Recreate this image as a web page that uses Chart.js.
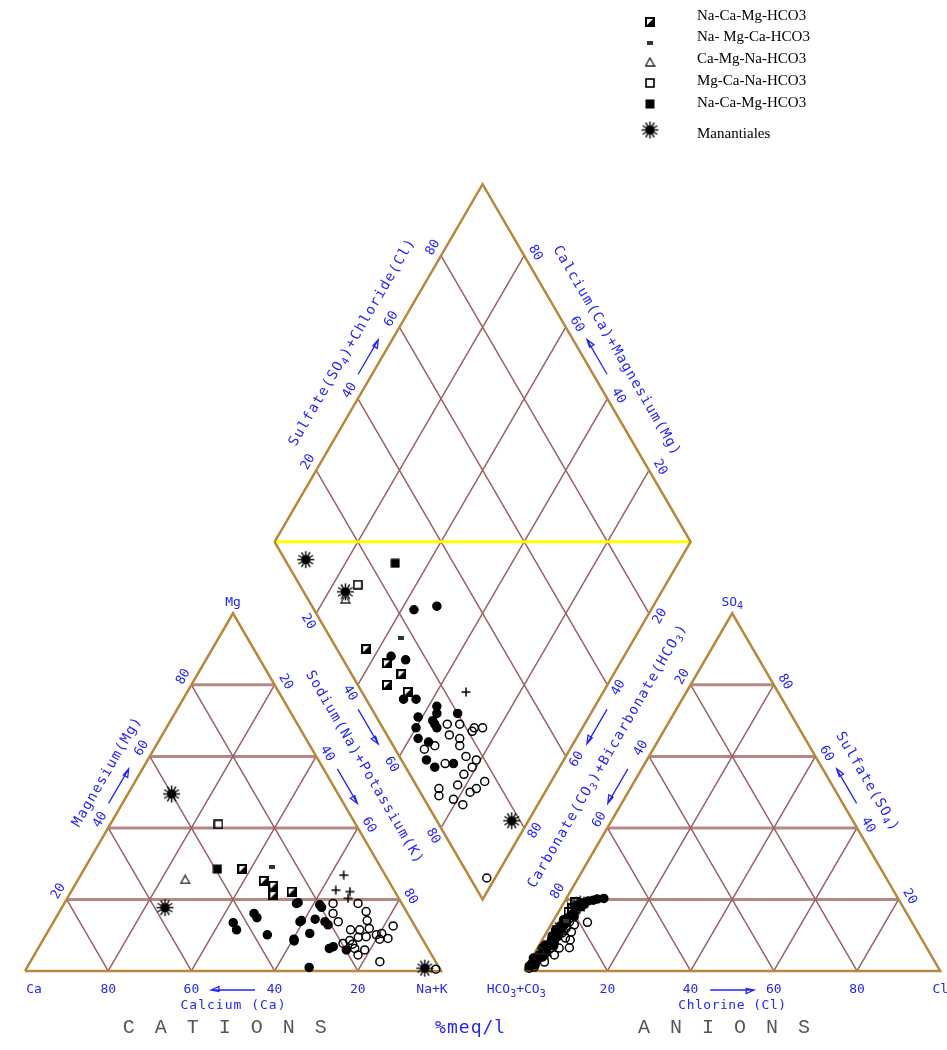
<!DOCTYPE html>
<html>
<head>
<meta charset="utf-8">
<title>Diagrama de Piper</title>
<script src="https://cdn.jsdelivr.net/npm/chart.js@4.4.1/dist/chart.umd.min.js"></script>
<style>
  html, body { margin: 0; padding: 0; background: #ffffff; }
  #wrap { width: 947px; height: 1050px; }
</style>
</head>
<body>
<div id="wrap"><canvas id="piper" width="947" height="1050"></canvas></div>
<script>
// ---- Data (% meq/l) ----
// Cations: [Ca, Mg]  (Na+K = 100 - Ca - Mg)
const catFilled = [[43.2, 13.5], [43.4, 11.5], [36.9, 16.1], [36.8, 14.9], [36.7, 10.1], [25.3, 18.9], [31.1, 8.4],
  [27, 13.8], [24.8, 19.1], [26.5, 14.1], [30.9, 8.9], [26.3, 10.5], [23, 14.5], [19.8, 17.8], [21, 13.8],
  [20.7, 12.9], [23.7, 6.3], [22.5, 6.8], [31.2, 1], [19.8, 5.9], [19.9, 18.5]];
const catOpen = [[16.5, 18.9], [17.9, 16.1], [17.8, 13.8], [10.5, 18.9], [9.7, 16.6], [10.7, 14.1], [16, 11.5],
  [13.8, 11.5], [11.3, 11.9], [15.2, 9.4], [13.2, 9.6], [10.5, 10.1], [9, 10.5], [5.2, 12.6], [8.2, 9.1],
  [10.3, 8.9], [17.7, 8.5], [19.7, 7.7], [17.6, 6.3], [15.4, 5.9], [17.7, 4.5], [13.4, 2.6], [17.5, 7.5], [1, 0.5]];
const catHalfSquare = [[33.5, 28.5], [30, 25.2], [28.4, 23.8], [29.7, 21.2], [24.8, 22.2]];
const catDash = [[26, 29.2]];
const catTriangle = [[48.7, 25.6]];
const catOpenSquare = [[33, 41]];
const catFilledSquare = [[39.5, 28.5]];
const catStar = [[40, 49.5], [57.5, 17.7], [3.5, 0.8]];
const catCross = [[10, 26.8], [14, 22.6], [10.8, 22.2], [12.2, 20.3]];

// Diamond: [Na+K, SO4+Cl]
const diaFilled = [[43, 24], [48, 30], [44, 12], [48, 15], [53, 9], [56, 12], [62, 16], [63, 15], [68, 20],
  [59, 10], [63, 13], [64, 13], [65, 13], [60, 8], [62, 7], [67, 6], [70, 7], [74, 12], [65, 9]];
const diaOpen = [[67, 16], [70, 19], [74, 22], [76, 24], [74, 21], [72, 17], [73, 16], [69, 15], [67, 10],
  [65, 7], [76, 16], [79, 18], [72, 10], [78, 13], [79, 16], [78, 10], [82, 12], [83, 14], [84, 17],
  [74, 5], [75, 4], [79, 7], [82, 8.5], [98, 4]];
const diaHalfSquare = [[37, 7], [44, 10], [49, 12], [47, 7], [53, 11]];
const diaDash = [[44, 17]];
const diaTriangle = [[25, 9]];
const diaOpenSquare = [[26, 14]];
const diaFilledSquare = [[32, 26]];
const diaStar = [[10, 5], [24, 10], [96, 18]];
const diaCross = [[67, 25]];

// Anions: [Cl, SO4]  (HCO3+CO3 = 100 - Cl - SO4)
const aniFilled = [[9, 20.3], [0.5, 1.4], [0.8, 2.2], [1.8, 1.7], [1.6, 3.1], [0.4, 3.6], [1.4, 4.5], [2.4, 3.9],
  [2.3, 6.4], [2.3, 7.5], [1.4, 7.3], [2.2, 8.7], [3.2, 8.1], [1.8, 9.8], [3.2, 9.5], [2.3, 10.9], [2.4, 12.6],
  [3.2, 12.9], [2.3, 14.3], [2.9, 14.8], [3.5, 15.7], [3.9, 16.2], [5.6, 19.6], [6.7, 19.8], [7.5, 20.1],
  [1.2, 6.5], [2.8, 5.2], [3.6, 7], [1.8, 11.5], [3.4, 13.5], [4.4, 15.2], [4.8, 18], [1.1, 2.8], [2.9, 11.5]];
const aniOpen = [[3.8, 10.6], [4.1, 12], [4, 13.7], [5.3, 9.2], [6.7, 8.7], [5.2, 6.4], [5, 4.5], [3.6, 2.5],
  [5.6, 12.9], [5.9, 10.9], [8.4, 13.6], [7.6, 6.5], [1.9, 1.1], [0.8, 0.8]];
const aniHalfSquare = [[2.4, 16.5], [2.7, 17.6], [2.6, 19.3]];
const aniDash = [[3, 14]];
const aniTriangle = [[0.9, 5.9]];
const aniOpenSquare = [[3.6, 18.2]];
const aniFilledSquare = [[4.9, 19]];
const aniStar = [[2.2, 5.3], [2.7, 11.5], [4.1, 18.7]];
const aniCross = [[4.7, 17.1]];

const legendLabels = ["Na-Ca-Mg-HCO3", "Na- Mg-Ca-HCO3", "Ca-Mg-Na-HCO3", "Mg-Ca-Na-HCO3", "Na-Ca-Mg-HCO3", "Manantiales"];
const gridSteps = [20, 40, 60, 80];

// ---- Piper geometry (triangle side = 100, gap = 20) ----
const H = Math.sqrt(3) / 2;
function cat(ca, mg) { return { x: (100 - ca - mg) + mg / 2, y: mg * H }; }
function ani(cl, so4) { return { x: 120 + cl + so4 / 2, y: so4 * H }; }
function dia(nak, so4cl) {
  const c = (100 - nak) / 100, s = so4cl / 100;
  return { x: 110 - 50 * c + 50 * s, y: 20 * H + 100 * H * (c + s) };
}
const BREAK = { x: null, y: null };
function segments(pairs) {
  const out = [];
  pairs.forEach(([p, q]) => out.push(p, q, BREAK));
  return out;
}

const flatGrid = [], slantGrid = [];
gridSteps.forEach((k) => {
  flatGrid.push([cat(100 - k, k), cat(0, k)], [ani(0, k), ani(100 - k, k)]);
  slantGrid.push(
    [cat(k, 0), cat(k, 100 - k)], [cat(100 - k, 0), cat(0, 100 - k)],
    [ani(k, 0), ani(k, 100 - k)], [ani(100 - k, 0), ani(0, 100 - k)],
    [dia(k, 0), dia(k, 100)], [dia(0, k), dia(100, k)]
  );
});
const outlineData = [
  cat(100, 0), cat(0, 0), cat(0, 100), cat(100, 0), BREAK,
  ani(0, 0), ani(100, 0), ani(0, 100), ani(0, 0), BREAK,
  dia(0, 0), dia(0, 100), dia(100, 100), dia(100, 0), dia(0, 0)
];

// ---- marker images ----
function marker(w, h, draw) {
  const c = document.createElement("canvas");
  c.width = w; c.height = h;
  draw(c.getContext("2d"));
  return c;
}
const mHalfSquare = marker(10, 10, (g) => {
  g.fillStyle = "#000";
  g.beginPath(); g.moveTo(10, 0); g.lineTo(10, 10); g.lineTo(0, 10); g.closePath(); g.fill();
  g.strokeStyle = "#000"; g.lineWidth = 2; g.strokeRect(1, 1, 8, 8);
});
const mDash = marker(6, 4, (g) => { g.fillStyle = "#333"; g.fillRect(0, 0, 6, 4); });
const mTriangle = marker(11, 10, (g) => {
  g.strokeStyle = "#222"; g.lineWidth = 1.3;
  g.beginPath(); g.moveTo(5.5, 1); g.lineTo(10, 9); g.lineTo(1, 9); g.closePath(); g.stroke();
});
const mOpenSquare = marker(10, 10, (g) => { g.strokeStyle = "#000"; g.lineWidth = 1.6; g.strokeRect(1, 1, 8, 8); });
const mFilledSquare = marker(10, 10, (g) => { g.fillStyle = "#000"; g.fillRect(0.5, 0.5, 9, 9); });
const mStar = marker(19, 19, (g) => {
  g.translate(9.5, 9.5);
  g.fillStyle = "#000"; g.strokeStyle = "#000"; g.lineWidth = 1.4;
  g.beginPath(); g.arc(0, 0, 4.6, 0, Math.PI * 2); g.fill();
  for (let i = 0; i < 12; i++) {
    const a = i * Math.PI / 6;
    g.beginPath(); g.moveTo(0, 0); g.lineTo(Math.cos(a) * 8.5, Math.sin(a) * 8.5); g.stroke();
  }
});
const mCross = marker(10, 10, (g) => {
  g.strokeStyle = "#000"; g.lineWidth = 1.5;
  g.beginPath(); g.moveTo(5, 0.5); g.lineTo(5, 9.5); g.moveTo(0.5, 5); g.lineTo(9.5, 5); g.stroke();
});

function points(c, d, a) {
  return [...c.map(([x, y]) => cat(x, y)), ...d.map(([x, y]) => dia(x, y)), ...a.map(([x, y]) => ani(x, y))];
}
function markerSet(label, data, style, legendRow) {
  return { label, data, pointStyle: style, pointRadius: 5, showLine: false, order: 1, legendRow };
}

const datasets = [
  { label: "grid-flat", data: segments(flatGrid), showLine: true, pointRadius: 0, borderColor: "rgba(165,105,105,0.8)", borderWidth: 3, order: 7 },
  { label: "grid", data: segments(slantGrid), showLine: true, pointRadius: 0, borderColor: "#9a6262", borderWidth: 1.5, order: 6 },
  { label: "yellow", data: [dia(0, 0), dia(100, 100)], showLine: true, pointRadius: 0, borderColor: "#ffff00", borderWidth: 3, order: 5 },
  { label: "outline", data: outlineData, showLine: true, pointRadius: 0, borderColor: "#b8883c", borderWidth: 2.5, borderJoinStyle: "miter", order: 4 },
  { label: "filled", data: points(catFilled, diaFilled, aniFilled), pointStyle: "circle", pointRadius: 4,
    backgroundColor: "#000", borderColor: "#000", borderWidth: 1.5, showLine: false, order: 2 },
  { label: "open", data: points(catOpen, diaOpen, aniOpen), pointStyle: "circle", pointRadius: 4,
    backgroundColor: "rgba(0,0,0,0)", borderColor: "#000", borderWidth: 1.5, showLine: false, order: 2 },
  markerSet(legendLabels[0], points(catHalfSquare, diaHalfSquare, aniHalfSquare), mHalfSquare, 0),
  markerSet(legendLabels[1], points(catDash, diaDash, aniDash), mDash, 1),
  markerSet(legendLabels[2], points(catTriangle, diaTriangle, aniTriangle), mTriangle, 2),
  markerSet(legendLabels[3], points(catOpenSquare, diaOpenSquare, aniOpenSquare), mOpenSquare, 3),
  markerSet(legendLabels[4], points(catFilledSquare, diaFilledSquare, aniFilledSquare), mFilledSquare, 4),
  markerSet(legendLabels[5], points(catStar, diaStar, aniStar), mStar, 5),
  markerSet("cross", points(catCross, diaCross, aniCross), mCross, undefined),
];

// ---- labels ----
const BLUE = "#2424ff";
const NUM_FONT = '13px "DejaVu Sans Mono"';
const NAME_FONT = '14px "DejaVu Sans Mono"';
const SUB_FONT = '10px "DejaVu Sans Mono"';

const edges = {
  catLeft: { a: cat(100, 0), b: cat(0, 100), c: cat(33, 33) },
  catRight: { a: cat(0, 100), b: cat(0, 0), c: cat(33, 33) },
  catBase: { a: cat(0, 0), b: cat(100, 0), c: cat(33, 33) },
  diaLB: { a: dia(0, 0), b: dia(100, 0), c: dia(50, 50) },
  diaLT: { a: dia(0, 0), b: dia(0, 100), c: dia(50, 50) },
  diaTR: { a: dia(100, 100), b: dia(0, 100), c: dia(50, 50) },
  diaRB: { a: dia(100, 100), b: dia(100, 0), c: dia(50, 50) },
  aniLeft: { a: ani(0, 100), b: ani(0, 0), c: ani(33, 33) },
  aniRight: { a: ani(100, 0), b: ani(0, 100), c: ani(33, 33) },
  aniBase: { a: ani(0, 0), b: ani(100, 0), c: ani(33, 33) },
};

function toPx(chart, p) {
  return { x: chart.scales.x.getPixelForValue(p.x), y: chart.scales.y.getPixelForValue(p.y) };
}
// point on an edge at value k (0 at a, 100 at b), pushed n px outward
function edgePoint(chart, e, k, n) {
  const A = toPx(chart, e.a), B = toPx(chart, e.b), C = toPx(chart, e.c);
  const dx = B.x - A.x, dy = B.y - A.y, len = Math.hypot(dx, dy);
  const ux = dx / len, uy = dy / len;
  let nx = -uy, ny = ux;
  const P = { x: A.x + dx * k / 100, y: A.y + dy * k / 100 };
  if ((P.x - C.x) * nx + (P.y - C.y) * ny < 0) { nx = -nx; ny = -ny; }
  let rot = Math.atan2(uy, ux);
  if (rot > Math.PI / 2 + 0.01) rot -= Math.PI;
  if (rot < -Math.PI / 2 - 0.01) rot += Math.PI;
  return { x: P.x + nx * n, y: P.y + ny * n, ux, uy, rot };
}

// '_' marks the following character as a subscript
function drawText(ctx, str, x, y, rot, font, color, spacing) {
  const runs = [];
  for (let i = 0; i < str.length; i++) {
    const sub = str[i] === "_";
    const ch = sub ? str[++i] : str[i];
    const last = runs[runs.length - 1];
    if (last && last.sub === sub) last.t += ch; else runs.push({ t: ch, sub });
  }
  ctx.save();
  ctx.translate(x, y);
  ctx.rotate(rot);
  ctx.fillStyle = color;
  ctx.textBaseline = "middle";
  ctx.textAlign = "left";
  ctx.letterSpacing = (spacing || 0) + "px";
  let w = 0;
  runs.forEach((r) => { ctx.font = r.sub ? SUB_FONT : font; r.w = ctx.measureText(r.t).width; w += r.w; });
  w -= spacing || 0;
  let cx = -w / 2;
  runs.forEach((r) => {
    ctx.font = r.sub ? SUB_FONT : font;
    ctx.fillText(r.t, cx, r.sub ? 4 : 0);
    cx += r.w;
  });
  ctx.restore();
}

function drawArrow(ctx, x, y, ux, uy, len) {
  const tx = x + ux * len / 2, ty = y + uy * len / 2;
  const nx = -uy, ny = ux;
  ctx.save();
  ctx.strokeStyle = BLUE;
  ctx.lineWidth = 1.3;
  ctx.beginPath();
  ctx.moveTo(x - ux * len / 2, y - uy * len / 2);
  ctx.lineTo(tx, ty);
  ctx.moveTo(tx, ty);
  ctx.lineTo(tx - ux * 8 + nx * 3.5, ty - uy * 8 + ny * 3.5);
  ctx.lineTo(tx - ux * 8 - nx * 1.5, ty - uy * 8 - ny * 1.5);
  ctx.closePath();
  ctx.stroke();
  ctx.restore();
}

const slantEdges = ["catLeft", "catRight", "diaLB", "diaLT", "diaTR", "diaRB", "aniLeft", "aniRight"];
const names = [
  { edge: "catLeft", k: 51.5, n: 29, text: "Magnesium(Mg)" },
  { edge: "diaLT", k: 51, n: 33, text: "Sulfate(SO_4)+Chloride(Cl)" },
  { edge: "diaTR", k: 49, n: 32, text: "Calcium(Ca)+Magnesium(Mg)" },
  { edge: "aniRight", k: 48.5, n: 32, text: "Sulfate(SO_4)" },
];
const sharedNames = [
  { e1: "catRight", e2: "diaLB", k: 53, text: "Sodium(Na)+Potassium(K)" },
  { e1: "diaRB", e2: "aniLeft", k: 50, text: "Carbonate(CO_3)+Bicarbonate(HCO_3)" },
];
const legendMarkY = [22, 43, 62, 83, 104, 130];
const legendTextY = [16, 37, 59, 81, 103, 134];

const piperLabels = {
  id: "piperLabels",
  afterDatasetsDraw(chart) {
    const ctx = chart.ctx;
    // numbers along slanted edges
    slantEdges.forEach((name) => {
      const e = edges[name];
      gridSteps.forEach((k) => {
        const p = edgePoint(chart, e, k, 11);
        drawText(ctx, String(k), p.x + Math.cos(p.rot) * 3, p.y + Math.sin(p.rot) * 3, p.rot, NUM_FONT, BLUE, 0);
      });
      const m = edgePoint(chart, e, 50, 12);
      drawArrow(ctx, m.x, m.y, m.ux, m.uy, 40);
    });
    names.forEach((l) => {
      const p = edgePoint(chart, edges[l.edge], l.k, l.n);
      drawText(ctx, l.text, p.x, p.y, p.rot, NAME_FONT, BLUE, 1.2);
    });
    sharedNames.forEach((l) => {
      const p = edgePoint(chart, edges[l.e1], l.k, 0), q = edgePoint(chart, edges[l.e2], l.k, 0);
      drawText(ctx, l.text, (p.x + q.x) / 2, (p.y + q.y) / 2, p.rot, NAME_FONT, BLUE, 1.2);
    });
    // bottom axes
    ["catBase", "aniBase"].forEach((name) => {
      const e = edges[name];
      gridSteps.forEach((k) => {
        const p = edgePoint(chart, e, k, 19);
        drawText(ctx, String(k), p.x, p.y, 0, NUM_FONT, BLUE, 0);
      });
      const m = edgePoint(chart, e, 50, 19);
      drawArrow(ctx, m.x, m.y, m.ux, m.uy, 44);
    });
    const ca = edgePoint(chart, edges.catBase, 100, 19);
    const nk = edgePoint(chart, edges.catBase, 0, 19);
    const hc = edgePoint(chart, edges.aniBase, 0, 19);
    const cl = edgePoint(chart, edges.aniBase, 100, 19);
    drawText(ctx, "Ca", ca.x + 9, ca.y, 0, NUM_FONT, BLUE, 0);
    drawText(ctx, "Na+K", nk.x - 9, nk.y, 0, NUM_FONT, BLUE, 0);
    drawText(ctx, "HCO_3+CO_3", hc.x - 8, hc.y, 0, NUM_FONT, BLUE, 0);
    drawText(ctx, "Cl", cl.x, cl.y, 0, NUM_FONT, BLUE, 0);
    const caName = edgePoint(chart, edges.catBase, 50, 35);
    const clName = edgePoint(chart, edges.aniBase, 50, 35);
    drawText(ctx, "Calcium (Ca)", caName.x, caName.y, 0, NUM_FONT, BLUE, 1);
    drawText(ctx, "Chlorine (Cl)", clName.x, clName.y, 0, NUM_FONT, BLUE, 0.5);
    // apex labels
    const mg = toPx(chart, cat(0, 100)), so4 = toPx(chart, ani(0, 100));
    drawText(ctx, "Mg", mg.x, mg.y - 11, 0, NUM_FONT, BLUE, 0);
    drawText(ctx, "SO_4", so4.x, so4.y - 11, 0, NUM_FONT, BLUE, 0);
    // footer
    const cations = edgePoint(chart, edges.catBase, 52, 57);
    const anions = edgePoint(chart, edges.aniBase, 48, 57);
    const meq = toPx(chart, { x: 107, y: 0 });
    drawText(ctx, "CATIONS", cations.x, cations.y, 0, '20px "Liberation Mono"', "#555", 20);
    drawText(ctx, "ANIONS", anions.x, anions.y, 0, '20px "Liberation Mono"', "#555", 20);
    drawText(ctx, "%meq/l", meq.x, cations.y, 0, '18px "DejaVu Sans Mono"', BLUE, 1);
    // legend
    chart.data.datasets.forEach((ds) => {
      if (ds.legendRow === undefined) return;
      const img = ds.pointStyle;
      ctx.drawImage(img, 650 - img.width / 2, legendMarkY[ds.legendRow] - img.height / 2);
      ctx.save();
      ctx.fillStyle = "#000";
      ctx.font = '15px "Liberation Serif"';
      ctx.textBaseline = "middle";
      ctx.textAlign = "left";
      ctx.fillText(ds.label, 697, legendTextY[ds.legendRow]);
      ctx.restore();
    });
  },
};

new Chart(document.getElementById("piper"), {
  type: "scatter",
  data: { datasets },
  options: {
    responsive: false,
    animation: false,
    events: [],
    layout: { padding: 0, autoPadding: false },
    scales: {
      x: { type: "linear", bounds: "data", min: -6.01, max: 221.63, display: false },
      y: { type: "linear", bounds: "data", min: -19.13, max: 235.11, display: false },
    },
    plugins: { legend: { display: false }, tooltip: { enabled: false } },
  },
  plugins: [piperLabels],
});
</script>
</body>
</html>
